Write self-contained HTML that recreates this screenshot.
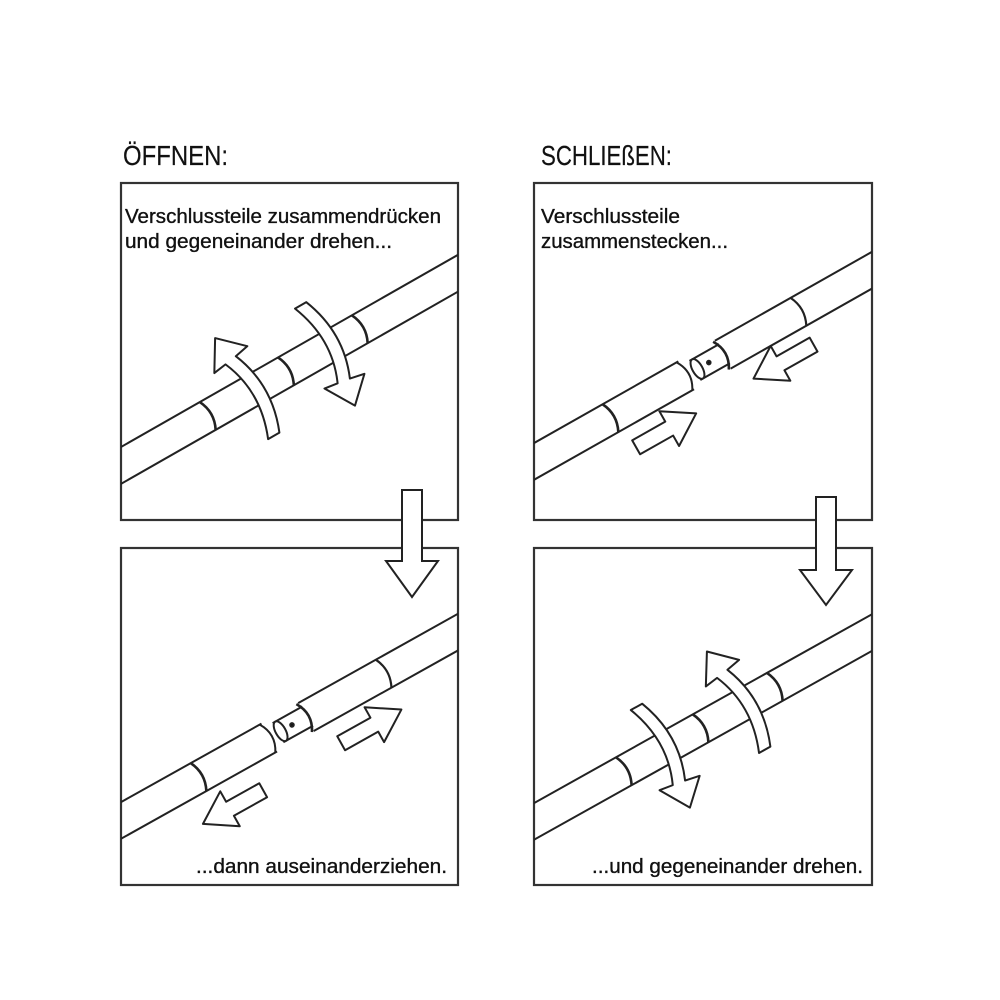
<!DOCTYPE html>
<html><head><meta charset="utf-8"><style>html,body{margin:0;padding:0;background:#fff}svg{display:block}</style></head>
<body>
<svg width="1000" height="1000" viewBox="0 0 1000 1000" xmlns="http://www.w3.org/2000/svg">
<defs>
<path id="rot" d="M -6,50 Q 12,5 -6,-36 L -20,-34 L -2,-64 L 22,-41 L 7,-38 Q 25,5 7,50 Z" fill="#fff" stroke="#222" stroke-width="2" stroke-linejoin="round"/>
<path id="arr" d="M -34,-8 L 4,-8 L 4,-20 L 35,0 L 4,20 L 4,8 L -34,8 Z" fill="#fff" stroke="#222" stroke-width="2" stroke-linejoin="round"/>
<clipPath id="c1"><rect x="121" y="183" width="337" height="337"/></clipPath>
<clipPath id="c2"><rect x="534" y="183" width="338" height="337"/></clipPath>
<clipPath id="c3"><rect x="121" y="548" width="337" height="337"/></clipPath>
<clipPath id="c4"><rect x="534" y="548" width="338" height="337"/></clipPath>
</defs>
<rect width="1000" height="1000" fill="#fff"/>
<g fill="none" stroke="#333" stroke-width="2.2">
<rect x="121" y="183" width="337" height="337"/>
<rect x="534" y="183" width="338" height="337"/>
<rect x="121" y="548" width="337" height="337"/>
<rect x="534" y="548" width="338" height="337"/>
</g>
<g font-family="'Liberation Sans', sans-serif" fill="#111" stroke="#111" stroke-width="0.35">
<text x="123" y="165" font-size="28" textLength="105" lengthAdjust="spacingAndGlyphs" stroke-width="0.2">ÖFFNEN:</text>
<text x="541" y="165" font-size="28" textLength="131" lengthAdjust="spacingAndGlyphs" stroke-width="0.2">SCHLIEßEN:</text>
<g font-size="20">
<text x="125" y="223" textLength="316" lengthAdjust="spacingAndGlyphs">Verschlussteile zusammendrücken</text>
<text x="125" y="248" textLength="267" lengthAdjust="spacingAndGlyphs">und gegeneinander drehen...</text>
<text x="541" y="223" textLength="139" lengthAdjust="spacingAndGlyphs">Verschlussteile</text>
<text x="541" y="248" textLength="187" lengthAdjust="spacingAndGlyphs">zusammenstecken...</text>
<text x="196" y="873" textLength="251" lengthAdjust="spacingAndGlyphs">...dann auseinanderziehen.</text>
<text x="592" y="873" textLength="271" lengthAdjust="spacingAndGlyphs">...und gegeneinander drehen.</text>
</g></g>

<!-- TL -->
<g clip-path="url(#c1)"><g transform="translate(120,466) rotate(-29.7)" stroke="#222" fill="none" stroke-width="2">
<line x1="-20" y1="-16" x2="420" y2="-16"/><line x1="-20" y1="16" x2="420" y2="16"/>
<path d="M101,-16 Q109,0 101,16 M191,-16 Q199,0 191,16 M276,-16 Q284,0 276,16" stroke-width="2.6"/>
<use href="#rot" transform="translate(148,0)"/>
<use href="#rot" transform="translate(236,0) scale(1,-1)"/>
</g></g>

<!-- TR -->
<g clip-path="url(#c2)"><g transform="translate(533,462) rotate(-29.5)" stroke="#222" fill="none" stroke-width="2">
<line x1="-20" y1="-16" x2="176" y2="-16"/><line x1="-20" y1="16" x2="176" y2="16"/>
<path d="M174,-16 Q184,0 174,16"/>
<path d="M89,-16 Q97,0 89,16" stroke-width="2.6"/>
<line x1="186" y1="-11" x2="220" y2="-11"/><line x1="186" y1="11" x2="220" y2="11"/>
<ellipse cx="189" cy="0" rx="5" ry="11" fill="#fff"/>
<circle cx="202" cy="0" r="1.8" fill="#111"/>
<line x1="218" y1="-16" x2="420" y2="-16"/><line x1="218" y1="16" x2="420" y2="16"/>
<path d="M216,-16 Q226,0 216,16" stroke-width="2.6"/>
<path d="M305,-16 Q313,0 305,16" stroke-width="2.2"/>
<use href="#arr" transform="translate(131,38)"/>
<use href="#arr" transform="translate(268,36) scale(-1,1)"/>
</g></g>

<!-- BL -->
<g clip-path="url(#c3)"><g transform="translate(120,821) rotate(-29.2)" stroke="#222" fill="none" stroke-width="2">
<line x1="-20" y1="-16" x2="171" y2="-16"/><line x1="-20" y1="16" x2="171" y2="16"/>
<path d="M169,-16 Q179,0 169,16"/>
<path d="M90,-16 Q98,0 90,16" stroke-width="2.6"/>
<line x1="181" y1="-11" x2="215" y2="-11"/><line x1="181" y1="11" x2="215" y2="11"/>
<ellipse cx="184" cy="0" rx="5" ry="11" fill="#fff"/>
<circle cx="197" cy="0" r="1.8" fill="#111"/>
<line x1="213" y1="-16" x2="420" y2="-16"/><line x1="213" y1="16" x2="420" y2="16"/>
<path d="M211,-16 Q221,0 211,16" stroke-width="2.6"/>
<path d="M302,-16 Q310,0 302,16" stroke-width="2.2"/>
<use href="#arr" transform="translate(106,43) scale(-1,1)"/>
<use href="#arr" transform="translate(265,40)"/>
</g></g>

<!-- BR -->
<g clip-path="url(#c4)"><g transform="translate(533,822) rotate(-29.2)" stroke="#222" fill="none" stroke-width="2">
<line x1="-20" y1="-16" x2="420" y2="-16"/><line x1="-20" y1="16" x2="420" y2="16"/>
<path d="M104,-16 Q112,0 104,16 M192,-16 Q200,0 192,16 M277,-16 Q285,0 277,16" stroke-width="2.6"/>
<use href="#rot" transform="translate(146,0) scale(1,-1)"/>
<use href="#rot" transform="translate(237,0)"/>
</g></g>

<!-- down arrows -->
<path d="M402,490 L422,490 L422,561 L438,561 L412,597 L386,561 L402,561 Z" fill="#fff" stroke="#222" stroke-width="2" stroke-linejoin="miter"/>
<path d="M816,497 L836,497 L836,570 L852,570 L826,605 L800,570 L816,570 Z" fill="#fff" stroke="#222" stroke-width="2" stroke-linejoin="miter"/>
</svg>
</body></html>
